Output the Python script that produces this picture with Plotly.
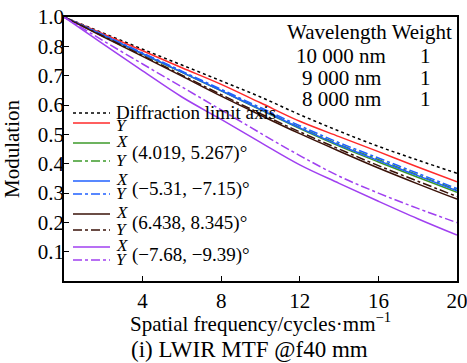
import plotly.graph_objects as go

freq = [0, 2, 4, 6, 8, 10, 12, 14, 16, 18, 20]

diffraction = [1.0, 0.939, 0.878, 0.818, 0.758, 0.697, 0.630, 0.568, 0.510, 0.458, 0.408]
onaxis_y = [1.0, 0.936, 0.872, 0.808, 0.745, 0.675, 0.605, 0.547, 0.490, 0.432, 0.376]
f1_x = [1.0, 0.930, 0.860, 0.790, 0.720, 0.648, 0.577, 0.511, 0.451, 0.393, 0.336]
f1_y = [1.0, 0.931, 0.862, 0.792, 0.722, 0.652, 0.582, 0.518, 0.460, 0.402, 0.345]
f2_x = [1.0, 0.931, 0.861, 0.791, 0.721, 0.650, 0.580, 0.515, 0.456, 0.399, 0.342]
f2_y = [1.0, 0.932, 0.864, 0.795, 0.726, 0.657, 0.588, 0.524, 0.466, 0.408, 0.350]
f3_x = [1.0, 0.925, 0.851, 0.776, 0.700, 0.628, 0.558, 0.492, 0.428, 0.368, 0.310]
f3_y = [1.0, 0.927, 0.854, 0.780, 0.706, 0.634, 0.565, 0.500, 0.437, 0.378, 0.320]
f4_x = [1.0, 0.897, 0.796, 0.697, 0.612, 0.525, 0.440, 0.370, 0.302, 0.236, 0.174]
f4_y = [1.0, 0.910, 0.822, 0.735, 0.648, 0.560, 0.475, 0.397, 0.333, 0.275, 0.221]

field_labels = ["(4.019, 5.267)°", "(−5.31, −7.15)°", "(6.438, 8.345)°", "(−7.68, −9.39)°"]
xticks = [4, 8, 12, 16, 20]
yticks = [1/9, 2/9, 3/9, 4/9, 5/9, 6/9, 7/9, 8/9, 1.0]
yticklabels = ["0.1", "0.2", "0.3", "0.4", "0.5", "0.6", "0.7", "0.8", "1.0"]
wl_rows = [("10 000 nm", "1"), ("9 000 nm", "1"), ("8 000 nm", "1")]

RED = "#ff2a2a"
GREEN = "#3c9a2a"
BLUE = "#2060ff"
BROWN = "#3a1208"
PURPLE = "#a040f0"
FONT = "Liberation Serif"

series = [
    ("Diffraction", diffraction, "black", "dot"),
    ("Y", onaxis_y, RED, "solid"),
    ("X1", f1_x, GREEN, "solid"),
    ("Y1", f1_y, GREEN, "dashdot"),
    ("X2", f2_x, BLUE, "solid"),
    ("Y2", f2_y, BLUE, "dashdot"),
    ("X3", f3_x, BROWN, "solid"),
    ("Y3", f3_y, BROWN, "dashdot"),
    ("X4", f4_x, PURPLE, "solid"),
    ("Y4", f4_y, PURPLE, "dashdot"),
]

fig = go.Figure()
for name, ys, col, dash in series:
    fig.add_trace(go.Scatter(x=freq, y=ys, mode="lines", name=name,
                             line=dict(color=col, dash=dash, width=1.5, shape="spline"),
                             showlegend=False))

L, R, T, B = 64, 457, 17, 281
W, H = 467, 363

def px(x):
    return (x - L) / (R - L)

def py(y):
    return (B - y) / (B - T)

shapes = []
annotations = []

leg_rows = [
    (113, "black", "dot"),
    (123, RED, "solid"),
    (143, GREEN, "solid"),
    (161, GREEN, "dashdot"),
    (181, BLUE, "solid"),
    (194, BLUE, "dashdot"),
    (214, BROWN, "solid"),
    (230, BROWN, "dashdot"),
    (247, PURPLE, "solid"),
    (260, PURPLE, "dashdot"),
]
for yy, col, dash in leg_rows:
    shapes.append(dict(type="line", xref="paper", yref="paper",
                       x0=px(73), x1=px(110), y0=py(yy), y1=py(yy),
                       line=dict(color=col, dash=dash, width=1.5)))

def ann(x, y, text, size=19, xanchor="left", italic=False, **kw):
    if italic:
        text = "<i>" + text + "</i>"
    annotations.append(dict(x=px(x), y=py(y), xref="paper", yref="paper", text=text,
                            showarrow=False, xanchor=xanchor, yanchor="middle",
                            font=dict(family=FONT, size=size, color="black"), **kw))

ann(114, 112, "Diffraction limit axis", size=19)
ann(114, 126, "Y", italic=True, size=17)
pair_rows = [(143, 161), (181, 194), (214, 230), (247, 260)]
for (ya, yb), lab in zip(pair_rows, field_labels):
    ann(114, ya - 2, "X", italic=True, size=17)
    ann(114, yb - 1, "Y", italic=True, size=17)
    ann(130, (ya + yb) / 2 + 1, lab, size=19)

ann(454, 32, "Wavelength Weight", size=21, xanchor="right")
for i, (wl, wt) in enumerate(wl_rows):
    yy = 56 + i * 21.5
    ann(341, yy, wl, size=21, xanchor="center")
    ann(425, yy, wt, size=21, xanchor="center")

annotations.append(dict(x=px(12), y=0.5, xref="paper", yref="paper", text="Modulation",
                        textangle=-90, showarrow=False, xanchor="center", yanchor="middle",
                        font=dict(family=FONT, size=21, color="black")))
annotations.append(dict(x=px(260), y=py(322), xref="paper", yref="paper",
                        text="Spatial frequency/cycles·mm<sup>−1</sup>",
                        showarrow=False, xanchor="center", yanchor="middle",
                        font=dict(family=FONT, size=21, color="black")))
annotations.append(dict(x=px(249), y=py(350), xref="paper", yref="paper",
                        text="(i) LWIR MTF @f40 mm",
                        showarrow=False, xanchor="center", yanchor="middle",
                        font=dict(family=FONT, size=23, color="black")))

fig.update_layout(
    width=W, height=H,
    margin=dict(l=L, r=W - R, t=T, b=H - B, pad=0, autoexpand=False),
    paper_bgcolor="white", plot_bgcolor="white",
    shapes=shapes, annotations=annotations,
    font=dict(family=FONT, size=20, color="black"),
    xaxis=dict(range=[0, 20], tickvals=xticks, ticktext=[str(t) for t in xticks],
               ticks="inside", ticklen=5, tickwidth=1, tickcolor="black",
               showline=True, linecolor="black", linewidth=1.5, mirror=True,
               automargin=False, ticklabeloverflow="allow",
               showgrid=False, zeroline=False, tickfont=dict(family=FONT, size=21)),
    yaxis=dict(range=[0, 1], tickvals=yticks, ticktext=yticklabels,
               ticks="inside", ticklen=5, tickwidth=1, tickcolor="black",
               showline=True, linecolor="black", linewidth=1.5, mirror=True,
               ticklabelstandoff=-6, automargin=False, ticklabeloverflow="allow",
               showgrid=False, zeroline=False, tickfont=dict(family=FONT, size=21)),
)

fig.write_html("out.html")
